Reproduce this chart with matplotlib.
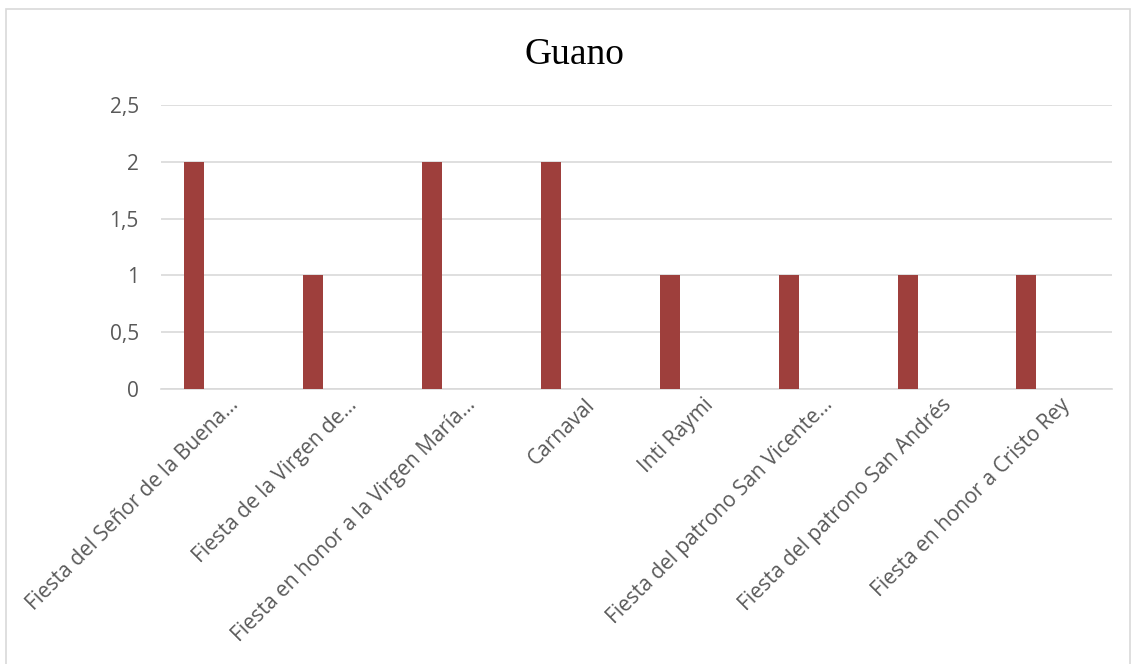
import matplotlib.pyplot as plt
from matplotlib.patches import Rectangle
import numpy as np

# datos
categorias = [
    "Fiesta del Señor de la Buena…",
    "Fiesta de la Virgen de…",
    "Fiesta en honor a la Virgen María…",
    "Carnaval",
    "Inti Raymi",
    "Fiesta del patrono San Vicente…",
    "Fiesta del patrono San Andrés",
    "Fiesta en honor a Cristo Rey",
]
valores = [2, 1, 2, 2, 1, 1, 1, 1]
yticks = [0, 0.5, 1, 1.5, 2, 2.5]
ytick_labels = ["0", "0,5", "1", "1,5", "2", "2,5"]

gris = "#595959"
plt.rcParams['font.family'] = ['Open Sans', 'DejaVu Sans']

fig = plt.figure(figsize=(11.37, 6.64), dpi=100)
ax = fig.add_axes([0.1416, 0.4142, 0.8364, 0.4277])

x = np.arange(len(categorias))
ax.bar(x - 0.22, valores, width=0.168, color="#9E3F3C", zorder=3)

ax.set_xlim(-0.5, len(categorias) - 0.5)
ax.set_ylim(0, 2.5)
ax.set_yticks(yticks)
ax.set_yticklabels(ytick_labels, fontsize=15, color=gris)
ax.set_xticks(x + 0.06)
ax.set_xticklabels(categorias, rotation=45, ha="right", rotation_mode="anchor",
                   fontsize=15, color=gris)
ax.tick_params(axis="both", length=0)
ax.tick_params(axis="y", pad=16)
ax.tick_params(axis="x", pad=4)
ax.grid(axis="y", color="#d9d9d9", linewidth=1.2, zorder=0)
for s in ["top", "right", "left"]:
    ax.spines[s].set_visible(False)
ax.spines["bottom"].set_color("#d9d9d9")
ax.spines["bottom"].set_linewidth(1.2)

fig.text(0.505, 0.918, "Guano", ha="center", va="center",
         fontsize=27, family="Liberation Serif", color="black")

# marco del gráfico
fig.patches.append(Rectangle((0.005, -0.01), 0.989, 0.997, transform=fig.transFigure,
                             fill=False, edgecolor="#d9d9d9", linewidth=1.2))

fig.savefig("out.png", dpi=100)
